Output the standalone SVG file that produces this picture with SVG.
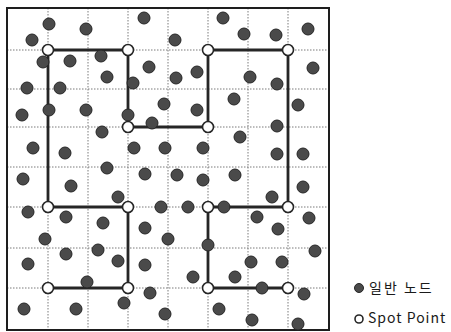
<svg xmlns="http://www.w3.org/2000/svg" width="451" height="332" viewBox="0 0 451 332">
<style>
.grid{stroke:#7a7a7a;stroke-width:1;stroke-dasharray:1.5,1.5;fill:none}
.frame{fill:none;stroke:#1e1e1e;stroke-width:2}
.edge{stroke:#262626;stroke-width:2.8;fill:none;stroke-linecap:square}
.dot{fill:#4a4a4a;stroke:#262626;stroke-width:1}
.spot{fill:#fff;stroke:#262626;stroke-width:1.6}
.lbl{font-family:"Noto Sans CJK KR","Noto Sans",sans-serif;font-size:14px;fill:#1a1a1a}
</style>
<rect width="451" height="332" fill="#fff"/>
<g id="grid">
<path class="grid" d="M48 8V330M88 8V330M128 8V330M168 8V330M208 8V330M248 8V330M288 8V330M7 50H329M7 89H329M7 127H329M7 167H329M7 207H329M7 248H329M7 288H329"/>
<rect class="frame" x="7" y="8" width="322" height="322"/>
</g>
<g id="connectors">
<path class="edge" d="M48 50H128V127H208V50H288V207"/>
<path class="edge" d="M48 50V207H128V288H48"/>
<path class="edge" d="M288 207H208V288H288"/>
</g>
<g id="nodes">
<g id="n1"><circle class="dot" cx="49" cy="24" r="6"/></g>
<g id="n2"><circle class="dot" cx="86" cy="29" r="6"/></g>
<g id="n3"><circle class="dot" cx="144" cy="18" r="6"/></g>
<g id="n4"><circle class="dot" cx="32" cy="40" r="6"/></g>
<g id="n5"><circle class="dot" cx="43" cy="62" r="6"/></g>
<g id="n6"><circle class="dot" cx="70" cy="61" r="6"/></g>
<g id="n7"><circle class="dot" cx="101" cy="56" r="6"/></g>
<g id="n8"><circle class="dot" cx="149" cy="67" r="6"/></g>
<g id="n9"><circle class="dot" cx="107" cy="77" r="6"/></g>
<g id="n10"><circle class="dot" cx="133" cy="83" r="6"/></g>
<g id="n11"><circle class="dot" cx="27" cy="88" r="6"/></g>
<g id="n12"><circle class="dot" cx="60" cy="88" r="6"/></g>
<g id="n13"><circle class="dot" cx="164" cy="104" r="6"/></g>
<g id="n14"><circle class="dot" cx="22" cy="115" r="6"/></g>
<g id="n15"><circle class="dot" cx="49" cy="110" r="6"/></g>
<g id="n16"><circle class="dot" cx="86" cy="110" r="6"/></g>
<g id="n17"><circle class="dot" cx="128" cy="115" r="6"/></g>
<g id="n18"><circle class="dot" cx="152" cy="123" r="6"/></g>
<g id="n19"><circle class="dot" cx="102" cy="132" r="6"/></g>
<g id="n20"><circle class="dot" cx="33" cy="148" r="6"/></g>
<g id="n21"><circle class="dot" cx="65" cy="153" r="6"/></g>
<g id="n22"><circle class="dot" cx="134" cy="148" r="6"/></g>
<g id="n23"><circle class="dot" cx="165" cy="148" r="6"/></g>
<g id="n24"><circle class="dot" cx="107" cy="168" r="6"/></g>
<g id="n25"><circle class="dot" cx="223" cy="18" r="6"/></g>
<g id="n26"><circle class="dot" cx="175" cy="40" r="6"/></g>
<g id="n27"><circle class="dot" cx="244" cy="34" r="6"/></g>
<g id="n28"><circle class="dot" cx="276" cy="35" r="6"/></g>
<g id="n29"><circle class="dot" cx="308" cy="29" r="6"/></g>
<g id="n30"><circle class="dot" cx="176" cy="78" r="6"/></g>
<g id="n31"><circle class="dot" cx="197" cy="72" r="6"/></g>
<g id="n32"><circle class="dot" cx="250" cy="77" r="6"/></g>
<g id="n33"><circle class="dot" cx="277" cy="84" r="6"/></g>
<g id="n34"><circle class="dot" cx="313" cy="68" r="6"/></g>
<g id="n35"><circle class="dot" cx="197" cy="110" r="6"/></g>
<g id="n36"><circle class="dot" cx="234" cy="99" r="6"/></g>
<g id="n37"><circle class="dot" cx="298" cy="105" r="6"/></g>
<g id="n38"><circle class="dot" cx="277" cy="126" r="6"/></g>
<g id="n39"><circle class="dot" cx="240" cy="137" r="6"/></g>
<g id="n40"><circle class="dot" cx="203" cy="148" r="6"/></g>
<g id="n41"><circle class="dot" cx="277" cy="154" r="6"/></g>
<g id="n42"><circle class="dot" cx="303" cy="154" r="6"/></g>
<g id="n43"><circle class="dot" cx="145" cy="174" r="6"/></g>
<g id="n44"><circle class="dot" cx="23" cy="179" r="6"/></g>
<g id="n45"><circle class="dot" cx="71" cy="186" r="6"/></g>
<g id="n46"><circle class="dot" cx="118" cy="197" r="6"/></g>
<g id="n47"><circle class="dot" cx="28" cy="212" r="6"/></g>
<g id="n48"><circle class="dot" cx="66" cy="217" r="6"/></g>
<g id="n49"><circle class="dot" cx="103" cy="223" r="6"/></g>
<g id="n50"><circle class="dot" cx="145" cy="228" r="6"/></g>
<g id="n51"><circle class="dot" cx="161" cy="207" r="6"/></g>
<g id="n52"><circle class="dot" cx="45" cy="239" r="6"/></g>
<g id="n53"><circle class="dot" cx="168" cy="239" r="6"/></g>
<g id="n54"><circle class="dot" cx="98" cy="250" r="6"/></g>
<g id="n55"><circle class="dot" cx="66" cy="254" r="6"/></g>
<g id="n56"><circle class="dot" cx="118" cy="261" r="6"/></g>
<g id="n57"><circle class="dot" cx="28" cy="264" r="6"/></g>
<g id="n58"><circle class="dot" cx="145" cy="265" r="6"/></g>
<g id="n59"><circle class="dot" cx="87" cy="282" r="6"/></g>
<g id="n60"><circle class="dot" cx="150" cy="293" r="6"/></g>
<g id="n61"><circle class="dot" cx="124" cy="303" r="6"/></g>
<g id="n62"><circle class="dot" cx="24" cy="309" r="6"/></g>
<g id="n63"><circle class="dot" cx="76" cy="309" r="6"/></g>
<g id="n64"><circle class="dot" cx="165" cy="314" r="6"/></g>
<g id="n65"><circle class="dot" cx="177" cy="175" r="6"/></g>
<g id="n66"><circle class="dot" cx="203" cy="180" r="6"/></g>
<g id="n67"><circle class="dot" cx="235" cy="175" r="6"/></g>
<g id="n68"><circle class="dot" cx="303" cy="187" r="6"/></g>
<g id="n69"><circle class="dot" cx="272" cy="197" r="6"/></g>
<g id="n70"><circle class="dot" cx="188" cy="207" r="6"/></g>
<g id="n71"><circle class="dot" cx="224" cy="207" r="6"/></g>
<g id="n72"><circle class="dot" cx="257" cy="217" r="6"/></g>
<g id="n73"><circle class="dot" cx="309" cy="218" r="6"/></g>
<g id="n74"><circle class="dot" cx="278" cy="229" r="6"/></g>
<g id="n75"><circle class="dot" cx="208" cy="245" r="6"/></g>
<g id="n76"><circle class="dot" cx="315" cy="251" r="6"/></g>
<g id="n77"><circle class="dot" cx="251" cy="262" r="6"/></g>
<g id="n78"><circle class="dot" cx="282" cy="262" r="6"/></g>
<g id="n79"><circle class="dot" cx="193" cy="277" r="6"/></g>
<g id="n80"><circle class="dot" cx="235" cy="277" r="6"/></g>
<g id="n81"><circle class="dot" cx="262" cy="288" r="6"/></g>
<g id="n82"><circle class="dot" cx="304" cy="294" r="6"/></g>
<g id="n83"><circle class="dot" cx="219" cy="309" r="6"/></g>
<g id="n84"><circle class="dot" cx="252" cy="320" r="6"/></g>
<g id="n85"><circle class="dot" cx="298" cy="324" r="6"/></g>
</g>
<g id="spots">
<g id="s1"><circle class="spot" cx="48" cy="50" r="5.5"/></g>
<g id="s2"><circle class="spot" cx="128" cy="50" r="5.5"/></g>
<g id="s3"><circle class="spot" cx="208" cy="50" r="5.5"/></g>
<g id="s4"><circle class="spot" cx="288" cy="50" r="5.5"/></g>
<g id="s5"><circle class="spot" cx="128" cy="127" r="5.5"/></g>
<g id="s6"><circle class="spot" cx="208" cy="127" r="5.5"/></g>
<g id="s7"><circle class="spot" cx="48" cy="207" r="5.5"/></g>
<g id="s8"><circle class="spot" cx="128" cy="207" r="5.5"/></g>
<g id="s9"><circle class="spot" cx="208" cy="207" r="5.5"/></g>
<g id="s10"><circle class="spot" cx="288" cy="207" r="5.5"/></g>
<g id="s11"><circle class="spot" cx="48" cy="288" r="5.5"/></g>
<g id="s12"><circle class="spot" cx="128" cy="288" r="5.5"/></g>
<g id="s13"><circle class="spot" cx="208" cy="288" r="5.5"/></g>
<g id="s14"><circle class="spot" cx="288" cy="288" r="5.5"/></g>
</g>
<g id="legend">
<circle class="dot" cx="359" cy="288" r="4.5"/>
<text class="lbl" x="369" y="293" letter-spacing="2">일반 노드</text>
<circle class="spot" cx="359" cy="319" r="4" stroke-width="1.2"/>
<text class="lbl" x="368" y="323" letter-spacing="1">Spot Point</text>
</g>
</svg>
